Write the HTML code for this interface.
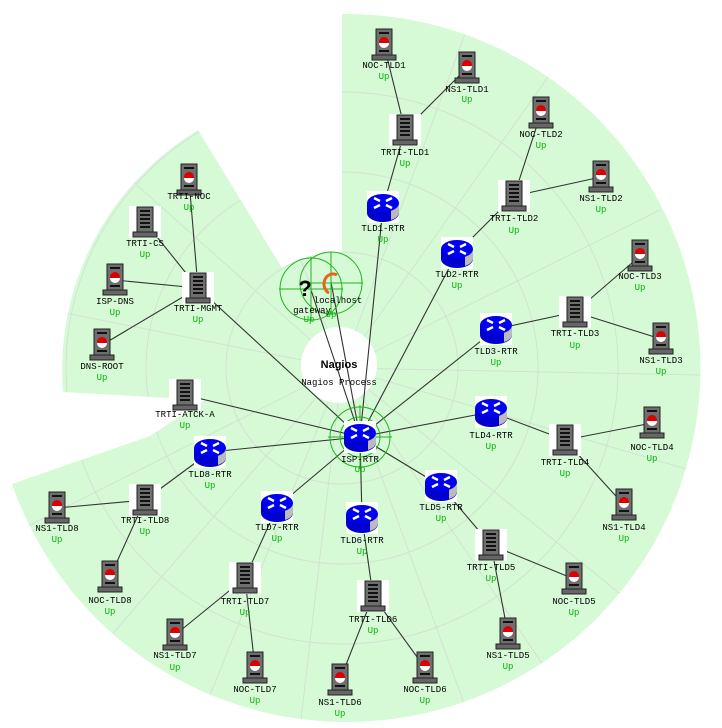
<!DOCTYPE html>
<html><head><meta charset="utf-8"><style>
html,body{margin:0;padding:0;background:#fff;}
svg{display:block;}
text{font-family:"Liberation Mono","DejaVu Sans Mono",monospace;font-size:9px;text-anchor:middle;}
.l{fill:#000;}
.u{fill:#00b000;}
</style></head><body>
<svg width="722" height="728" viewBox="0 0 722 728" xmlns="http://www.w3.org/2000/svg">
<defs>
<clipPath id="cp"><path id="bg" d="M342,368 L342,14 A354,354 0 1 1 12,484 L150,436 L205,400 L63,392 A280,280 0 0 1 198,130 L282,268 A116,116 0 0 1 342,252 Z"/></clipPath>
<g id="rh">
<rect x="-8" y="-16" width="16" height="26" fill="#6e6e6e" stroke="#222"/>
<rect x="-5" y="-13" width="10" height="2" fill="#111"/>
<circle cx="0" cy="-3" r="5" fill="#d00"/>
<path d="M-5,-2 A5,5 0 0 0 5,-2 Z" fill="#fff"/>
<rect x="-5" y="5" width="10" height="2" fill="#111"/>
<rect x="-12" y="10" width="24" height="5" fill="#666" stroke="#222"/>
</g>
<g id="sv">
<rect x="-16" y="-16" width="32" height="32" fill="#fff"/>
<rect x="-8" y="-15" width="16" height="25" fill="#6e6e6e" stroke="#222"/>
<rect x="-5" y="-12" width="10" height="2" fill="#111"/>
<rect x="-5" y="-8" width="10" height="2" fill="#111"/>
<rect x="-5" y="-4" width="10" height="2" fill="#111"/>
<rect x="-5" y="0" width="10" height="2" fill="#111"/>
<rect x="-5" y="4" width="10" height="2" fill="#111"/>
<rect x="-12" y="10" width="24" height="5" fill="#666" stroke="#222"/>
</g>
<g id="rt">
<rect x="-16" y="-16" width="32" height="32" fill="#fff"/>
<path d="M-16,-4 L-16,6 A16,9 0 0 0 16,6 L16,-4 Z" fill="#0000d0"/>
<path d="M8,0 L16,-4 L16,6 A16,9 0 0 1 8,13 Z" fill="#bbb"/>
<ellipse cx="0" cy="-4" rx="16" ry="9" fill="#0000f0"/>
<path d="M-9,-9 L-3,-6 M9,-9 L3,-6 M-9,1 L-3,-2 M9,1 L3,-2" stroke="#fff" stroke-width="2.5"/>
</g>
</defs>
<use href="#bg" fill="#d6fad6"/>
<g clip-path="url(#cp)" fill="none" stroke="#d2e2d2" stroke-width="1">
<circle cx="342" cy="368" r="116"/><circle cx="342" cy="368" r="196"/><circle cx="342" cy="368" r="276"/>
<path d="M342,368 L470,20 M342,368 L560,60 M342,368 L660,210 M342,368 L700,375 M342,368 L690,470 M342,368 L640,610 M342,368 L560,690 M342,368 L470,720 M342,368 L300,728 M342,368 L200,720 M342,368 L90,660 M342,368 L0,540 M342,368 L0,300 M342,368 L120,170 M342,368 L240,100"/>
</g>
<circle cx="339" cy="365" r="38" fill="#fff"/>
<g stroke="#333" stroke-width="1.1">
<line x1="360" y1="437" x2="383" y2="207"/><line x1="360" y1="437" x2="457" y2="253"/>
<line x1="360" y1="437" x2="496" y2="329"/><line x1="360" y1="437" x2="491" y2="412"/>
<line x1="360" y1="437" x2="441" y2="486"/><line x1="360" y1="437" x2="362" y2="518"/>
<line x1="360" y1="437" x2="277" y2="507"/><line x1="360" y1="437" x2="210" y2="452"/>
<line x1="360" y1="437" x2="185" y2="395"/><line x1="360" y1="437" x2="198" y2="288"/>
<line x1="360" y1="437" x2="311" y2="290"/><line x1="360" y1="437" x2="331" y2="282"/>
<line x1="383" y1="207" x2="405" y2="130"/><line x1="405" y1="130" x2="384" y2="45"/><line x1="405" y1="130" x2="467" y2="68"/>
<line x1="457" y1="253" x2="514" y2="196"/><line x1="514" y1="196" x2="541" y2="113"/><line x1="514" y1="196" x2="601" y2="177"/>
<line x1="496" y1="329" x2="575" y2="312"/><line x1="575" y1="312" x2="640" y2="256"/><line x1="575" y1="312" x2="661" y2="339"/>
<line x1="491" y1="412" x2="565" y2="440"/><line x1="565" y1="440" x2="652" y2="423"/><line x1="565" y1="440" x2="624" y2="505"/>
<line x1="441" y1="486" x2="491" y2="545"/><line x1="491" y1="545" x2="574" y2="579"/><line x1="491" y1="545" x2="508" y2="634"/>
<line x1="362" y1="518" x2="373" y2="596"/><line x1="373" y1="596" x2="340" y2="680"/><line x1="373" y1="596" x2="425" y2="668"/>
<line x1="277" y1="507" x2="245" y2="578"/><line x1="245" y1="578" x2="175" y2="635"/><line x1="245" y1="578" x2="255" y2="668"/>
<line x1="210" y1="452" x2="145" y2="500"/><line x1="145" y1="500" x2="57" y2="508"/><line x1="145" y1="500" x2="110" y2="577"/>
<line x1="198" y1="288" x2="189" y2="180"/><line x1="198" y1="288" x2="145" y2="222"/><line x1="198" y1="288" x2="115" y2="280"/><line x1="198" y1="288" x2="102" y2="345"/>
</g>
<g fill="none" stroke="#1eb41e" stroke-width="1">
<circle cx="360" cy="437" r="30"/><circle cx="360" cy="437" r="20"/>
<path d="M328,437 H392 M360,405 V469"/>
<circle cx="311" cy="289" r="31"/><circle cx="331" cy="283" r="31"/>
<path d="M279,289 H343 M311,257 V321 M300,283 H363 M331,252 V314"/>
</g>
<text x="305" y="296" style="font-size:22px;font-weight:bold;font-family:'Liberation Sans',sans-serif">?</text>
<path d="M337,275 A9,10 0 1 0 329,293" fill="none" stroke="#e8641e" stroke-width="3"/>
<text class="l" x="338" y="303">localhost</text><text class="l" x="312" y="313">gateway</text>
<text class="u" x="309" y="322">Up</text><text class="u" x="331" y="317">Up</text>
<text x="339" y="368" style="font-family:'Liberation Sans',sans-serif;font-weight:bold;font-size:11px">Nagios</text>
<text class="l" x="339" y="385">Nagios Process</text>

<use href="#rt" x="360" y="437"/><text class="l" x="360" y="462">ISP-RTR</text><text class="u" x="360" y="472">Up</text>
<use href="#rh" x="189" y="180"/><text class="l" x="189" y="199">TRTI-NOC</text><text class="u" x="189" y="210">Up</text>
<use href="#sv" x="145" y="222"/><text class="l" x="145" y="246">TRTI-CS</text><text class="u" x="145" y="257">Up</text>
<use href="#rh" x="115" y="280"/><text class="l" x="115" y="304">ISP-DNS</text><text class="u" x="115" y="315">Up</text>
<use href="#sv" x="198" y="288"/><text class="l" x="198" y="311">TRTI-MGMT</text><text class="u" x="198" y="322">Up</text>
<use href="#rh" x="102" y="345"/><text class="l" x="102" y="369">DNS-ROOT</text><text class="u" x="102" y="380">Up</text>
<use href="#sv" x="185" y="395"/><text class="l" x="185" y="417">TRTI-ATCK-A</text><text class="u" x="185" y="428">Up</text>
<use href="#rt" x="210" y="452"/><text class="l" x="210" y="477">TLD8-RTR</text><text class="u" x="210" y="488">Up</text>
<use href="#sv" x="145" y="500"/><text class="l" x="145" y="523">TRTI-TLD8</text><text class="u" x="145" y="534">Up</text>
<use href="#rh" x="57" y="508"/><text class="l" x="57" y="531">NS1-TLD8</text><text class="u" x="57" y="542">Up</text>
<use href="#rh" x="110" y="577"/><text class="l" x="110" y="603">NOC-TLD8</text><text class="u" x="110" y="614">Up</text>
<use href="#rt" x="277" y="507"/><text class="l" x="277" y="530">TLD7-RTR</text><text class="u" x="277" y="541">Up</text>
<use href="#sv" x="245" y="578"/><text class="l" x="245" y="604">TRTI-TLD7</text><text class="u" x="245" y="615">Up</text>
<use href="#rh" x="175" y="635"/><text class="l" x="175" y="658">NS1-TLD7</text><text class="u" x="175" y="670">Up</text>
<use href="#rh" x="255" y="668"/><text class="l" x="255" y="692">NOC-TLD7</text><text class="u" x="255" y="703">Up</text>
<use href="#rt" x="362" y="518"/><text class="l" x="362" y="543">TLD6-RTR</text><text class="u" x="362" y="554">Up</text>
<use href="#sv" x="373" y="596"/><text class="l" x="373" y="622">TRTI-TLD6</text><text class="u" x="373" y="633">Up</text>
<use href="#rh" x="340" y="680"/><text class="l" x="340" y="705">NS1-TLD6</text><text class="u" x="340" y="716">Up</text>
<use href="#rh" x="425" y="668"/><text class="l" x="425" y="692">NOC-TLD6</text><text class="u" x="425" y="703">Up</text>
<use href="#rt" x="441" y="486"/><text class="l" x="441" y="510">TLD5-RTR</text><text class="u" x="441" y="521">Up</text>
<use href="#sv" x="491" y="545"/><text class="l" x="491" y="570">TRTI-TLD5</text><text class="u" x="491" y="581">Up</text>
<use href="#rh" x="574" y="579"/><text class="l" x="574" y="604">NOC-TLD5</text><text class="u" x="574" y="615">Up</text>
<use href="#rh" x="508" y="634"/><text class="l" x="508" y="658">NS1-TLD5</text><text class="u" x="508" y="669">Up</text>
<use href="#rt" x="491" y="412"/><text class="l" x="491" y="438">TLD4-RTR</text><text class="u" x="491" y="449">Up</text>
<use href="#sv" x="565" y="440"/><text class="l" x="565" y="465">TRTI-TLD4</text><text class="u" x="565" y="476">Up</text>
<use href="#rh" x="652" y="423"/><text class="l" x="652" y="450">NOC-TLD4</text><text class="u" x="652" y="461">Up</text>
<use href="#rh" x="624" y="505"/><text class="l" x="624" y="530">NS1-TLD4</text><text class="u" x="624" y="541">Up</text>
<use href="#rt" x="496" y="329"/><text class="l" x="496" y="354">TLD3-RTR</text><text class="u" x="496" y="365">Up</text>
<use href="#sv" x="575" y="312"/><text class="l" x="575" y="336">TRTI-TLD3</text><text class="u" x="575" y="348">Up</text>
<use href="#rh" x="640" y="256"/><text class="l" x="640" y="279">NOC-TLD3</text><text class="u" x="640" y="290">Up</text>
<use href="#rh" x="661" y="339"/><text class="l" x="661" y="363">NS1-TLD3</text><text class="u" x="661" y="374">Up</text>
<use href="#rt" x="457" y="253"/><text class="l" x="457" y="277">TLD2-RTR</text><text class="u" x="457" y="288">Up</text>
<use href="#sv" x="514" y="196"/><text class="l" x="514" y="221">TRTI-TLD2</text><text class="u" x="514" y="233">Up</text>
<use href="#rh" x="541" y="113"/><text class="l" x="541" y="137">NOC-TLD2</text><text class="u" x="541" y="148">Up</text>
<use href="#rh" x="601" y="177"/><text class="l" x="601" y="201">NS1-TLD2</text><text class="u" x="601" y="212">Up</text>
<use href="#rt" x="383" y="207"/><text class="l" x="383" y="231">TLD1-RTR</text><text class="u" x="383" y="242">Up</text>
<use href="#sv" x="405" y="130"/><text class="l" x="405" y="155">TRTI-TLD1</text><text class="u" x="405" y="166">Up</text>
<use href="#rh" x="384" y="45"/><text class="l" x="384" y="68">NOC-TLD1</text><text class="u" x="384" y="79">Up</text>
<use href="#rh" x="467" y="68"/><text class="l" x="467" y="92">NS1-TLD1</text><text class="u" x="467" y="102">Up</text>
</svg>
</body></html>
